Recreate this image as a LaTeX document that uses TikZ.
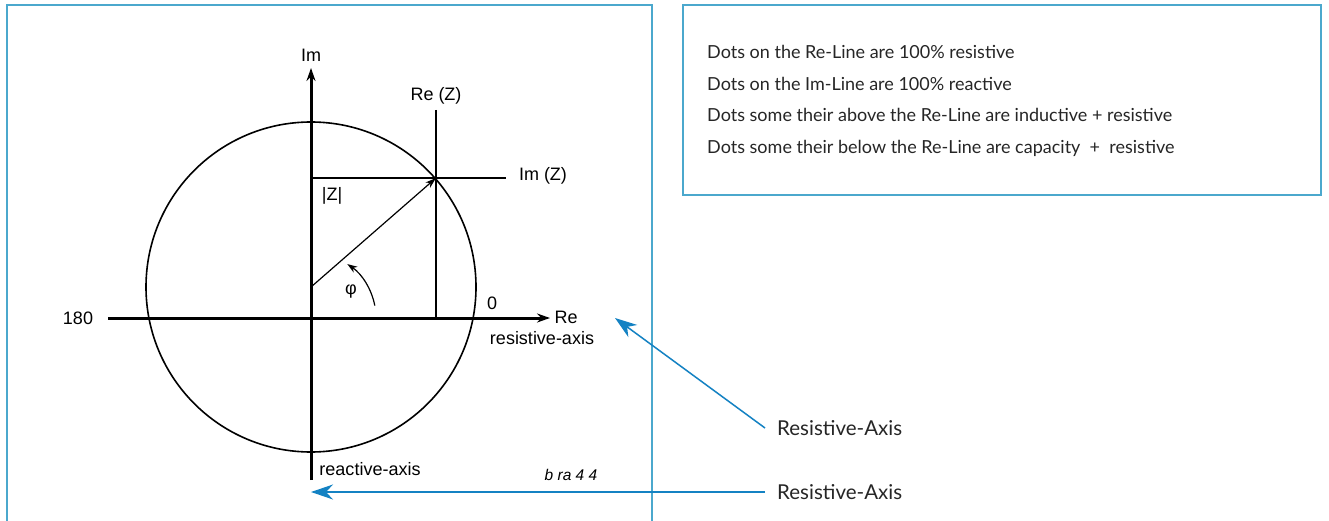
\documentclass[tikz,border=0pt]{standalone}
\usepackage{fontspec}
\setmainfont{Liberation Sans}
\newfontfamily\notefont{Lato}
\usetikzlibrary{arrows.meta,calc}
\definecolor{framecol}{RGB}{75,168,205}
\definecolor{arrowcol}{RGB}{20,130,195}
\begin{document}
\begin{tikzpicture}[x=1pt,y=-1pt,
 lbl/.style={font=\fontsize{18}{20}\selectfont, inner sep=0pt},
 note/.style={font=\notefont\fontsize{18}{20}\selectfont, inner sep=0pt, anchor=base west, text=black!85},
 plabel/.style={font=\notefont\fontsize{20.5}{22}\selectfont, inner sep=0pt, anchor=west, text=black!85},
 axisline/.style={line width=3pt, -{Stealth[length=13pt,width=9pt]}},
 thinline/.style={line width=1.2pt},
 frame/.style={draw=framecol, line width=2pt},
 pointer/.style={draw=arrowcol, line width=1.5pt, -{Stealth[length=22pt,width=15pt,inset=7pt]}}]
\useasboundingbox (0,0) rectangle (1329,521);
\fill[white] (0,0) rectangle (1329,521);
% frames
\draw[frame] (7,521) -- (7,5) -- (652,5) -- (652,521);
\draw[frame] (683,5) rectangle (1321,195);
% coordinates
\coordinate (O) at (311,318);
\coordinate (C) at (311,287);
\coordinate (P) at (436,178);
\coordinate (reL) at (108,318);
\coordinate (reR) at (550,318);
\coordinate (imB) at (311,480);
\coordinate (imT) at (311,68);
\coordinate (vT) at (436,110);
\coordinate (vB) at (436,318);
\coordinate (hL) at (311,178);
\coordinate (hR) at (506,178);
% circle
\draw[line width=1.6pt] (C) circle[radius=165pt];
% axes
\draw[axisline] (reL) -- (reR);
\draw[axisline] (imB) -- (imT);
% projection lines
\draw[thinline] (vT) -- (vB);
\draw[thinline] (hL) -- (hR);
% vector
\draw[thinline, -{Stealth[length=11pt,width=7pt]}] (C) -- (P);
% angle arc
\draw[thinline, -{Stealth[length=10pt,width=7pt]}] ($(O)+(11:65pt)$) arc[start angle=11, end angle=56, radius=65pt];
% labels
\node[lbl] (im) at (311,55) {Im};
\node[lbl] (reZ) at (436,96) {Re (Z)};
\node[lbl] (imZ) at (543,176) {Im (Z)};
\node[lbl] (absZ) at (332,196) {|Z|};
\node[lbl] (phi) at (351,292) {φ};
\node[lbl] (zero) at (492,303) {0};
\node[lbl] (re) at (566,317) {Re};
\node[lbl] (resax) at (542,338) {resistive-axis};
\node[lbl] (oneeighty) at (78,318) {180};
\node[lbl] (reacax) at (370,469) {reactive-axis};
\node[lbl, font=\itshape\fontsize{15.5}{17}\selectfont] (code) at (571,475) {b ra 4 4};
% note box text
\node[note] (n1) at (707,59) {Dots on the Re-Line are 100\% resistive};
\node[note] (n2) at (707,91) {Dots on the Im-Line are 100\% reactive};
\node[note] (n3) at (707,122) {Dots some their above the Re-Line are inductive + resistive};
\node[note] (n4) at (707,154) {Dots some their below the Re-Line are capacity \ + \ resistive};
% pointers
\node[plabel] (ra1) at (777,428) {Resistive-Axis};
\node[plabel] (ra2) at (777,492) {Resistive-Axis};
\coordinate (t1) at (615,318);
\coordinate (t2) at (311,492);
\draw[pointer] ([xshift=-12pt]ra1.west) -- (t1);
\draw[pointer] ([xshift=-12pt]ra2.west) -- (t2);
\end{tikzpicture}
\end{document}
